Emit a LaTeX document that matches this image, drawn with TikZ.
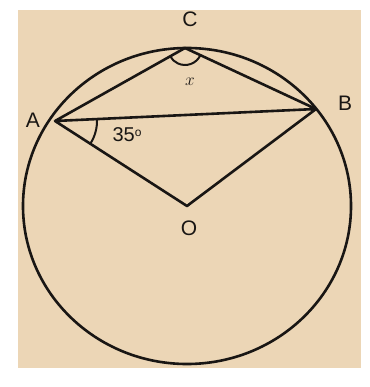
\documentclass[tikz,border=0pt]{standalone}
\usepackage{fontspec}
\setmainfont{Liberation Sans}
\usetikzlibrary{calc}
\definecolor{paper}{RGB}{236,214,182}
\definecolor{ink}{RGB}{25,22,20}
\begin{document}
\begin{tikzpicture}[x=1pt,y=-1pt,
  geo/.style={draw=ink,line width=2.6pt},
  lbl/.style={text=ink,font=\fontsize{21}{23}\selectfont,inner sep=0pt}]
\useasboundingbox (0,0) rectangle (369,387);
\fill[white] (0,0) rectangle (369,387);
\fill[paper] (18,10) rectangle (361,368);
\coordinate (Oc) at (187,206);
\coordinate (C) at (185,48);
\coordinate (A) at (55,121);
\coordinate (B) at (316,109);
\coordinate (O) at (187,206);
\draw[geo] (Oc) ellipse [x radius=164, y radius=158];
\draw[geo,line join=round] (A) -- (C) -- (B) -- (A) -- (O) -- (B);
% angle at A
\draw[geo,line width=2pt] ($(A)!42pt!(B)$) arc[start angle=-2.6, end angle=33, radius=42];
% angle at C
\draw[geo,line width=2pt] ($(C)!17pt!(B)$) arc[start angle=25, end angle=151, radius=17];
\node[lbl] (lC) at (190,19) {C};
\node[lbl] (lA) at (33,120) {A};
\node[lbl] (lB) at (345,103) {B};
\node[lbl] (lO) at (189,228) {O};
\node[lbl,font=\fontsize{20}{22}\selectfont] (l35) at (127,135) {35\raisebox{0.55ex}{\fontsize{12}{12}\selectfont o}};
\node[lbl,font=\fontsize{19}{21}\selectfont] (lx) at (190,82) {$x$};
\end{tikzpicture}
\end{document}
